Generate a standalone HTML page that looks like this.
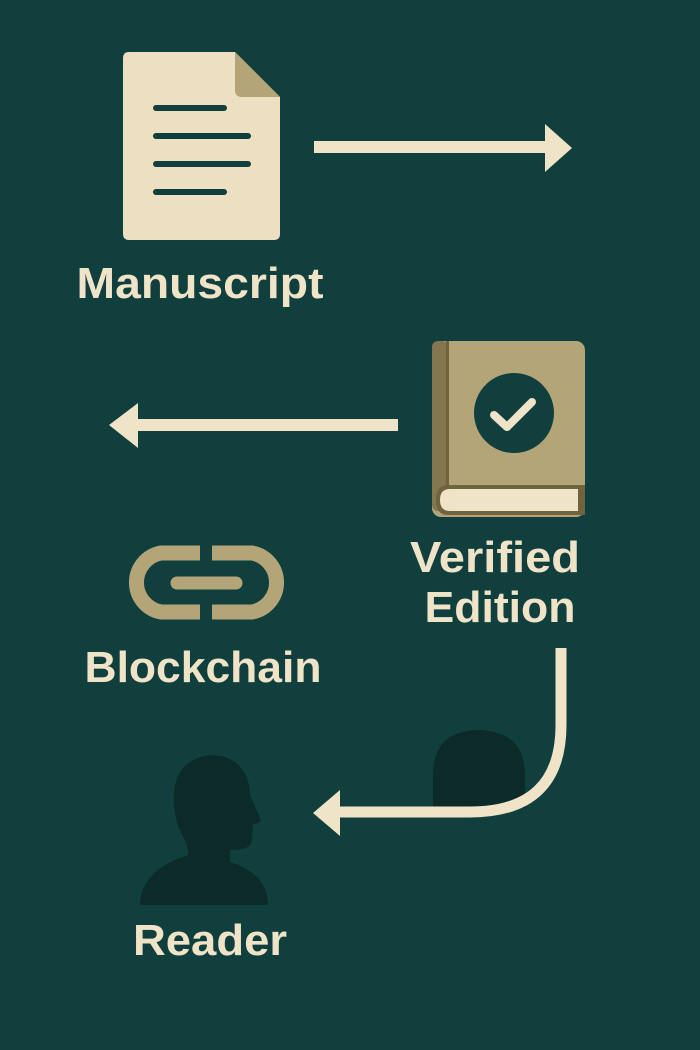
<!DOCTYPE html>
<html><head><meta charset="utf-8"><style>
html,body{margin:0;padding:0;background:#113f3d;}
svg{display:block;}
text{font-family:"Liberation Sans",sans-serif;font-weight:bold;fill:#efe3c8;}
</style></head><body>
<svg width="700" height="1050" viewBox="0 0 700 1050" xmlns="http://www.w3.org/2000/svg">
<rect width="700" height="1050" fill="#113f3d"/>
<!-- Manuscript doc -->
<path d="M129,52 H235 L280,97 V234 Q280,240 274,240 H129 Q123,240 123,234 V58 Q123,52 129,52 Z" fill="#ecdfc2"/>
<path d="M235,52 L280,97 H242 Q235,97 235,90 Z" fill="#b3a577"/>
<g stroke="#113f3d" stroke-width="6" stroke-linecap="round">
<line x1="156" y1="108" x2="224" y2="108"/>
<line x1="156" y1="136" x2="248" y2="136"/>
<line x1="156" y1="164" x2="248" y2="164"/>
<line x1="156" y1="192" x2="224" y2="192"/>
</g>
<text x="200" y="298" font-size="44" text-anchor="middle" textLength="247" lengthAdjust="spacingAndGlyphs">Manuscript</text>
<!-- arrow 1 -->
<rect x="314" y="141" width="233" height="12" fill="#efe3c8"/>
<polygon points="545,124 572,148 545,172" fill="#efe3c8"/>
<!-- arrow 2 -->
<rect x="136" y="419" width="262" height="12" fill="#efe3c8"/>
<polygon points="138,403 109,425 138,448" fill="#efe3c8"/>
<!-- book -->
<rect x="432" y="341" width="153" height="176" rx="9" fill="#b3a577"/>
<rect x="432" y="341" width="16" height="170" rx="6" fill="#85774d"/>
<rect x="446" y="341" width="3" height="150" fill="#6f6340"/>
<path d="M448,485 H585 V515 H448 Q436,515 436,500 Q436,485 448,485 Z" fill="#6f6340"/>
<path d="M450,489 H578 V511 H450 Q440,511 440,500 Q440,489 450,489 Z" fill="#efe3c8"/>
<circle cx="514" cy="413" r="40" fill="#113f3d"/>
<polyline points="494,415 507,427 532,402" fill="none" stroke="#efe3c8" stroke-width="8" stroke-linecap="round" stroke-linejoin="round"/>
<text x="495" y="572" font-size="44" text-anchor="middle" textLength="170" lengthAdjust="spacingAndGlyphs">Verified</text>
<text x="500" y="622" font-size="44" text-anchor="middle" textLength="151" lengthAdjust="spacingAndGlyphs">Edition</text>
<!-- chain -->
<g fill="none" stroke="#b3a577" stroke-width="15">
<path d="M200,553 H161 A30,30 0 0 0 161,612 H200"/>
<path d="M212,553 H252 A30,30 0 0 1 252,612 H212"/>
</g>
<line x1="177" y1="583" x2="236" y2="583" stroke="#113f3d" stroke-width="19" stroke-linecap="round"/>
<line x1="177" y1="583" x2="236" y2="583" stroke="#b3a577" stroke-width="13" stroke-linecap="round"/>
<text x="203" y="682" font-size="44" text-anchor="middle" textLength="237" lengthAdjust="spacingAndGlyphs">Blockchain</text>
<!-- blob -->
<path d="M433,808 V775 Q433,730 480,730 Q525,732 525,775 V808 Z" fill="#0c2b28"/>
<!-- curved arrow -->
<path d="M561,648 V725 Q561,812 470,812 H338" fill="none" stroke="#efe3c8" stroke-width="11"/>
<polygon points="340,790 313,813 340,836" fill="#efe3c8"/>
<!-- reader -->
<path d="M188,852 C188,840 178,832 176,818 C170,790 175,762 205,756 C232,751 250,770 250,795 L260,818 C262,823 256,824 253,824 L252,840 C251,848 244,850 230,850 L230,862 C256,870 268,885 268,905 L140,905 C140,880 160,864 188,855 Z" fill="#0c2b28"/>
<text x="210" y="955" font-size="44" text-anchor="middle" textLength="154" lengthAdjust="spacingAndGlyphs">Reader</text>
</svg>
</body></html>
